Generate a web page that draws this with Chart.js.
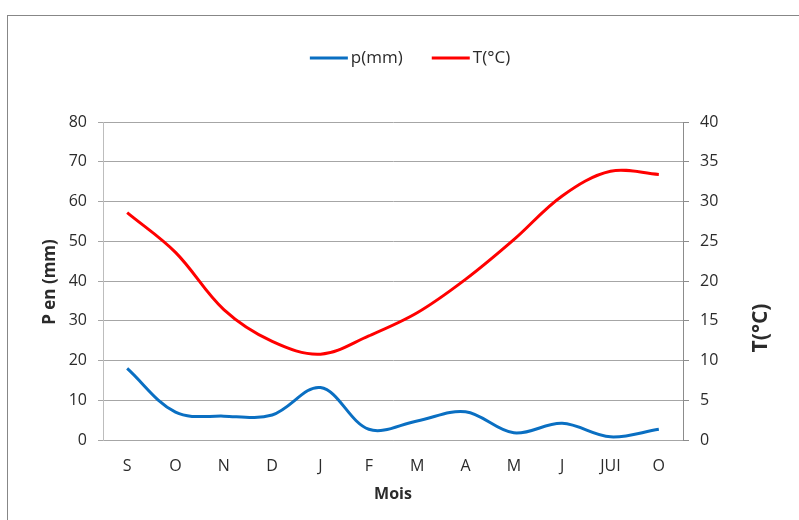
<!DOCTYPE html>
<html>
<head>
<meta charset="utf-8">
<script src="https://cdn.jsdelivr.net/npm/chart.js@4.4.1/dist/chart.umd.min.js"></script>
<style>
  html, body { margin: 0; padding: 0; background: #ffffff; }
  #wrap { position: relative; width: 799px; height: 520px; overflow: hidden; }
  #frame { position: absolute; left: 7px; top: 15px; width: 820px; height: 560px; border: 1px solid #878787; box-sizing: border-box; }
  #chart { position: absolute; left: 0; top: 0; }
</style>
</head>
<body>
<div id="wrap">
  <div id="frame"></div>
  <canvas id="chart" width="799" height="520"></canvas>
</div>
<script>
// Monthly climate data (September to October)
const months = ['S', 'O', 'N', 'D', 'J', 'F', 'M', 'A', 'M', 'J', 'JUI', 'O'];
const precipitation = [18, 7, 6, 6.3, 13.2, 2.7, 4.8, 7.1, 1.8, 4.2, 0.8, 2.7];
const temperature = [28.6, 23.6, 16.4, 12.4, 10.8, 13.1, 16, 20.2, 25.2, 30.7, 33.8, 33.4];
const pTicks = [0, 10, 20, 30, 40, 50, 60, 70, 80];
const tTicks = [0, 5, 10, 15, 20, 25, 30, 35, 40];

const FONT = '"Open Sans", "Liberation Sans", sans-serif';
const TEXT = '#2b2b2b';
const BLUE = '#0a6fc2';
const RED = '#ff0000';

// Axis titles and legend drawn on the canvas
const decorations = {
  id: 'decorations',
  afterDraw(chart) {
    const ctx = chart.ctx;
    const area = chart.chartArea;
    ctx.save();
    ctx.fillStyle = TEXT;

    // Legend
    ctx.font = '17px ' + FONT;
    ctx.textBaseline = 'middle';
    ctx.textAlign = 'left';
    const items = chart.data.datasets.map(ds => ({ label: ds.label, color: ds.borderColor }));
    const lineW = 38, gap = 3, between = 29;
    let total = 0;
    items.forEach((it, i) => {
      it.w = ctx.measureText(it.label).width;
      total += lineW + gap + it.w + (i ? between : 0);
    });
    let x = 410 - total / 2;
    const ly = 58;
    items.forEach(it => {
      ctx.strokeStyle = it.color;
      ctx.lineWidth = 3;
      ctx.beginPath();
      ctx.moveTo(x, ly);
      ctx.lineTo(x + lineW, ly);
      ctx.stroke();
      ctx.fillStyle = TEXT;
      ctx.fillText(it.label, x + lineW + gap, ly);
      x += lineW + gap + it.w + between;
    });

    // X axis title
    ctx.font = 'bold 16px ' + FONT;
    ctx.textAlign = 'center';
    ctx.fillText('Mois', (area.left + area.right) / 2, 494);

    // Left axis title
    ctx.save();
    ctx.translate(50, 282);
    ctx.rotate(-Math.PI / 2);
    ctx.font = 'bold 17px ' + FONT;
    ctx.fillText('P en (mm)', 0, 0);
    ctx.restore();

    // Right axis title
    ctx.save();
    ctx.translate(761, 328);
    ctx.rotate(-Math.PI / 2);
    ctx.font = 'bold 21px ' + FONT;
    ctx.fillText('T(°C)', 0, 0);
    ctx.restore();

    ctx.restore();
  }
};

new Chart(document.getElementById('chart'), {
  type: 'line',
  data: {
    labels: months,
    datasets: [
      {
        label: 'p(mm)',
        data: precipitation,
        yAxisID: 'yP',
        borderColor: BLUE,
        backgroundColor: BLUE,
        borderWidth: 3,
        pointRadius: 0,
        tension: 0.35,
        fill: false
      },
      {
        label: 'T(°C)',
        data: temperature,
        yAxisID: 'yT',
        borderColor: RED,
        backgroundColor: RED,
        borderWidth: 3,
        pointRadius: 0,
        tension: 0.35,
        fill: false
      }
    ]
  },
  options: {
    responsive: false,
    animation: false,
    layout: { padding: { top: 122, left: 0, right: 0, bottom: 0 } },
    plugins: {
      legend: { display: false },
      tooltip: { enabled: false }
    },
    scales: {
      x: {
        offset: true,
        grid: { display: false, drawTicks: false },
        border: { display: true, color: '#a6a6a6', width: 1 },
        ticks: { color: TEXT, font: { family: FONT, size: 16 }, padding: 17, maxRotation: 0, autoSkip: false },
        afterFit(scale) { scale.height = 80; }
      },
      yP: {
        position: 'left',
        min: 0,
        max: 80,
        afterBuildTicks(scale) { scale.ticks = pTicks.map(v => ({ value: v })); },
        grid: { color: '#a6a6a6', lineWidth: 1, tickLength: 5 },
        border: { display: true, color: '#bdbdbd', width: 1 },
        ticks: { color: TEXT, font: { family: FONT, size: 16 }, padding: 11 },
        afterFit(scale) { scale.width = 103; }
      },
      yT: {
        position: 'right',
        min: 0,
        max: 40,
        afterBuildTicks(scale) { scale.ticks = tTicks.map(v => ({ value: v })); },
        grid: { drawOnChartArea: false, color: '#8c8c8c', lineWidth: 1, tickLength: 6 },
        border: { display: true, color: '#8c8c8c', width: 1 },
        ticks: { color: TEXT, font: { family: FONT, size: 16 }, padding: 11 },
        afterFit(scale) { scale.width = 116; }
      }
    }
  },
  plugins: [decorations]
});
</script>
</body>
</html>
